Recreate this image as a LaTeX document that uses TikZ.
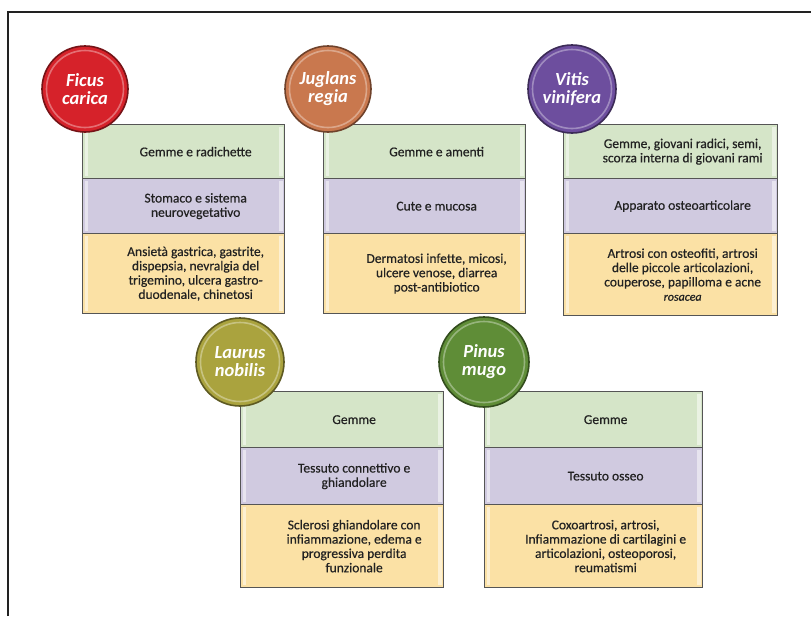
\documentclass[tikz,border=0pt]{standalone}
\usepackage{fontspec}
\setmainfont{Carlito}
\newfontfamily\cellfont{Carlito}[FakeBold=0.5]
\definecolor{cgreen}{HTML}{D5E5C8}
\definecolor{cpurple}{HTML}{D0CAE0}
\definecolor{corange}{HTML}{FBE1A5}
\definecolor{cellline}{HTML}{555555}
\definecolor{txtcol}{HTML}{222222}
\definecolor{cficus}{HTML}{D6222A}
\definecolor{cjuglans}{HTML}{C9784E}
\definecolor{cvitis}{HTML}{6D4E9E}
\definecolor{claurus}{HTML}{AAA33E}
\definecolor{cpinus}{HTML}{5F8D37}
\definecolor{framecol}{HTML}{222222}
\newcommand\mycell[7]{%
  \node[cell, fill=#6, minimum width=#4pt, minimum height=#5pt, anchor=north west] (#1) at (#2,#3) {};
  \fill[white, opacity=.5] ([xshift=2.5pt,yshift=-3pt]#1.north west) rectangle ([xshift=6pt,yshift=3pt]#1.south west);
  \fill[white, opacity=.5] ([xshift=-2.5pt,yshift=-3pt]#1.north east) rectangle ([xshift=-6pt,yshift=3pt]#1.south east);
  \node[txt] (#1t) at ([xshift=12pt]#1.center) {#7};
}
\newcommand\mydisc[6]{%
  \node[disc, fill=#5, draw=#5!55!black, minimum size={2*#4pt}] (#1) at (#2,#3) {};
  \draw[white, opacity=.35, line width=1.6pt] (#1.center) circle[radius={#4pt-4.5pt}];
  \node[disctext] (#1t) at (#1.center) {#6};
}
\begin{document}
\begin{tikzpicture}[x=1pt,y=-1pt,
  cell/.style={draw=cellline, line width=1.3pt, rectangle, inner sep=0pt},
  txt/.style={font=\cellfont\fontsize{13.5}{14.3}\selectfont, text=txtcol, align=center, inner sep=0pt},
  disc/.style={circle, inner sep=0pt, line width=1.6pt},
  disctext/.style={font=\fontsize{18.5}{18}\selectfont\bfseries\itshape, text=white, align=center, inner sep=0pt}]
\useasboundingbox (0,0) rectangle (811,616);
\fill[white] (0,0) rectangle (811,616);
\draw[framecol, line width=1.6pt] (8,616) -- (8,12) -- (811,12);

% Ficus carica
\mycell{f1}{82}{124}{202}{54}{cgreen}{Gemme e radichette}
\mycell{f2}{82}{178}{202}{55}{cpurple}{Stomaco e sistema\\neurovegetativo}
\mycell{f3}{82}{233}{202}{80}{corange}{Ansietà gastrica, gastrite,\\dispepsia, nevralgia del\\trigemino, ulcera gastro-\\duodenale, chinetosi}
% Juglans regia
\mycell{j1}{323}{124}{202}{54}{cgreen}{Gemme e amenti}
\mycell{j2}{323}{178}{202}{55}{cpurple}{Cute e mucosa}
\mycell{j3}{323}{233}{202}{80}{corange}{Dermatosi infette, micosi,\\ulcere venose, diarrea\\post-antibiotico}
% Vitis vinifera
\mycell{v1}{563}{124}{214}{54}{cgreen}{Gemme, giovani radici, semi,\\scorza interna di giovani rami}
\mycell{v2}{563}{178}{214}{55}{cpurple}{Apparato osteoarticolare}
\mycell{v3}{563}{233}{214}{82}{corange}{Artrosi con osteofiti, artrosi\\delle piccole articolazioni,\\couperose, papilloma e acne\\{\itshape\fontsize{12}{14.3}\selectfont rosacea}}
% Laurus nobilis
\mycell{l1}{240}{391}{203}{56}{cgreen}{Gemme}
\mycell{l2}{240}{447}{203}{57}{cpurple}{Tessuto connettivo e\\ghiandolare}
\mycell{l3}{240}{504}{203}{83}{corange}{Sclerosi ghiandolare con\\infiammazione, edema e\\progressiva perdita\\funzionale}
% Pinus mugo
\mycell{p1}{484}{391}{218}{56}{cgreen}{Gemme}
\mycell{p2}{484}{447}{218}{57}{cpurple}{Tessuto osseo}
\mycell{p3}{484}{504}{218}{83}{corange}{Coxoartrosi, artrosi,\\Infiammazione di cartilagini e\\articolazioni, osteoporosi,\\reumatismi}

\mydisc{fc}{85}{89}{43}{cficus}{Ficus\\carica}
\mydisc{jr}{328}{89}{43}{cjuglans}{Juglans\\regia}
\mydisc{vv}{572}{89}{44}{cvitis}{Vitis\\vinifera}
\mydisc{ln}{240}{362}{44}{claurus}{Laurus\\nobilis}
\mydisc{pm}{484}{362}{45}{cpinus}{Pinus\\mugo}
\end{tikzpicture}
\end{document}
